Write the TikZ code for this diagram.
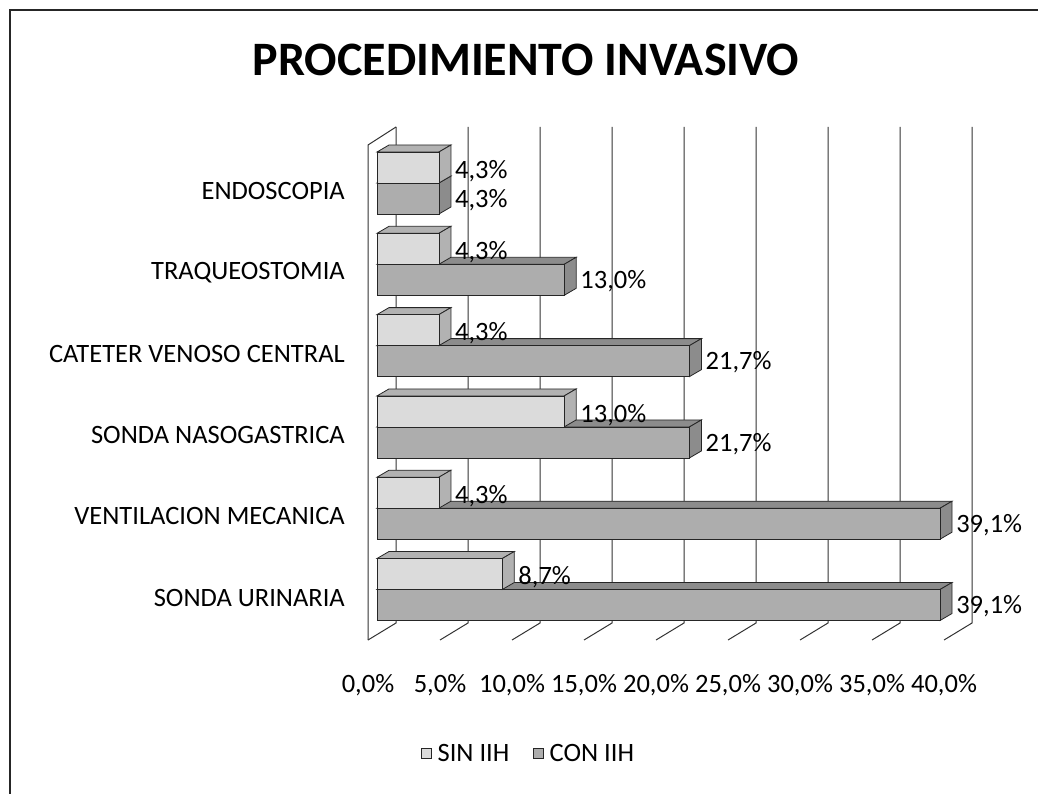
\documentclass[tikz,border=0pt]{standalone}
\usepackage{fontspec}
\setmainfont{Carlito}
\usetikzlibrary{positioning}

\definecolor{sinfront}{gray}{0.86}
\definecolor{sinside}{gray}{0.70}
\definecolor{confront}{gray}{0.68}
\definecolor{conside}{gray}{0.55}

% one 3D bar: front face, top face and right side
% #1 end x, #2 top y, #3 front colour, #4 side colour
\newcommand{\barra}[4]{%
  \filldraw[barline, fill=#4] (377,#2) -- ++(12,-7) -- (#1+12,#2-7) -- (#1,#2) -- cycle;
  \filldraw[barline, fill=#4] (#1,#2) -- ++(12,-7) -- ++(0,31) -- (#1,#2+31) -- cycle;
  \filldraw[barline, fill=#3] (377,#2) rectangle (#1,#2+31);
}

\begin{document}
\begin{tikzpicture}[x=1pt,y=-1pt,
  txt/.style={font=\fontsize{26.5}{30}\selectfont, inner sep=1pt},
  cat/.style={txt, anchor=east},
  val/.style={txt, anchor=west},
  grid/.style={line width=1pt, black!80},
  barline/.style={line width=0.8pt, black!85}]

\useasboundingbox (0,0) rectangle (1038,794);
\draw[line width=1.2pt, black!85] (10,794) -- (10,10) -- (1038,10); % frame

\node (title) at (526,60) {\fontsize{48}{52}\selectfont\bfseries PROCEDIMIENTO INVASIVO};

% left wall
\draw[grid] (368,640) -- (368,145) -- (396,127);

% back grid and floor lines
\foreach \k in {0,...,8}{
  \draw[grid] (396+72*\k,127) -- (396+72*\k,623) -- (368+72*\k,640);
  \pgfmathtruncatemacro\p{5*\k}
  \node[txt] (ax\k) at (368+72*\k,685) {\p,0\%};
}

% bars, top to bottom
\foreach \nom/\sv/\cv/\st/\ct [count=\i from 0] in {
    ENDOSCOPIA/4.3/4.3/{4,3\%}/{4,3\%},
    TRAQUEOSTOMIA/4.3/13.0/{4,3\%}/{13,0\%},
    CATETER VENOSO CENTRAL/4.3/21.7/{4,3\%}/{21,7\%},
    SONDA NASOGASTRICA/13.0/21.7/{13,0\%}/{21,7\%},
    VENTILACION MECANICA/4.3/39.1/{4,3\%}/{39,1\%},
    SONDA URINARIA/8.7/39.1/{8,7\%}/{39,1\%}}{
  \pgfmathsetmacro\yt{152+81.3*\i}
  \pgfmathsetmacro\yc{\yt+31}
  \pgfmathsetmacro\xs{377+14.4*\sv}
  \pgfmathsetmacro\xc{377+14.4*\cv}
  \barra{\xc}{\yc}{confront}{conside} % CON IIH
  \barra{\xs}{\yt}{sinfront}{sinside} % SIN IIH
  \node[cat] (cat\i) at (346,\yt+39) {\nom};
  \node[val] (sin\i) at (\xs+15,\yt+19) {\st};
  \node[val] (con\i) at (\xc+15,\yt+48) {\ct};
}

% legend
\node[draw, barline, fill=sinfront, minimum size=10pt, inner sep=0pt] (sinbox) at (426,753) {};
\node[txt, right=5pt of sinbox] (sintxt) {SIN IIH};
\node[draw, barline, fill=confront, minimum size=10pt, inner sep=0pt, right=22pt of sintxt] (conbox) {};
\node[txt, right=5pt of conbox] (contxt) {CON IIH};

\end{tikzpicture}
\end{document}
